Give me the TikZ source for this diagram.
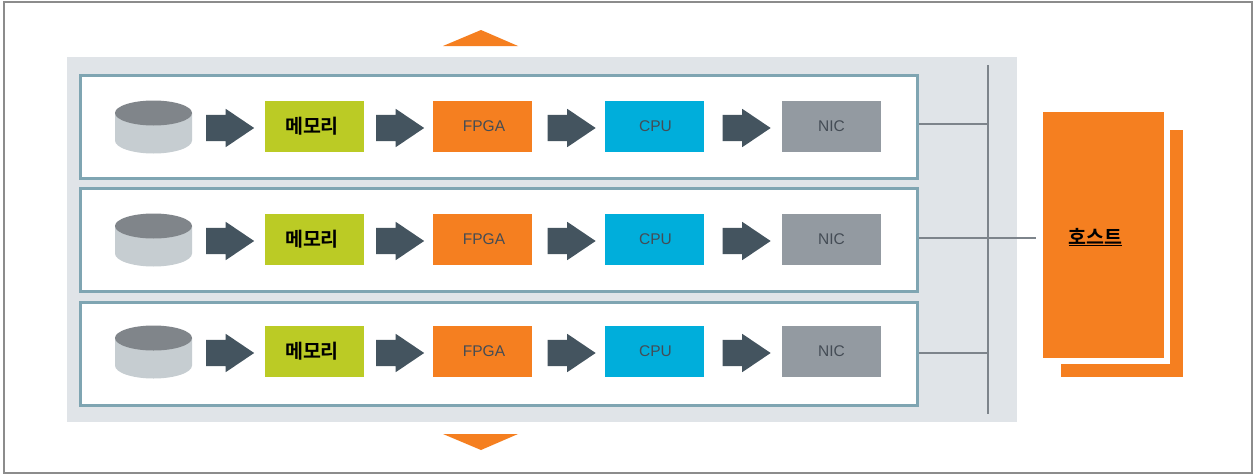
\documentclass[tikz,border=0pt]{standalone}
\usepackage{fontspec}
\setmainfont{Liberation Sans}
\newfontfamily\krfont{Noto Sans CJK KR}[BoldFont={* Bold}]
\usetikzlibrary{shapes.arrows}
\definecolor{panelgray}{HTML}{E0E4E8}
\definecolor{rowedge}{HTML}{7FA5B2}
\definecolor{arrowslate}{HTML}{44545F}
\definecolor{lime}{HTML}{BBCB25}
\definecolor{hostorange}{HTML}{F57F20}
\definecolor{cpublue}{HTML}{00AEDB}
\definecolor{nicgray}{HTML}{939AA1}
\definecolor{linegray}{HTML}{7D848B}
\definecolor{diskbody}{HTML}{C6CDD1}
\definecolor{disktop}{HTML}{80858A}
\definecolor{labelgray}{HTML}{444C55}
\tikzset{
  rowbox/.style={draw=rowedge,line width=3pt,fill=white,minimum width=837pt,minimum height=103pt,inner sep=0pt},
  unitbox/.style={minimum width=99pt,minimum height=51pt,inner sep=0pt,text=labelgray,font=\fontsize{15.5}{15.5}\selectfont},
  memorybox/.style={unitbox,fill=lime,text=black,font=\krfont\bfseries\fontsize{19.5}{19.5}\selectfont},
  fpgabox/.style={unitbox,fill=hostorange},
  cpubox/.style={unitbox,fill=cpublue},
  nicbox/.style={unitbox,fill=nicgray},
  flowarrow/.style={single arrow,fill=arrowslate,minimum height=48pt,minimum width=38pt,inner xsep=0pt,inner ysep=13pt,
    single arrow head extend=6pt,single arrow tip angle=68,shape border rotate=0,anchor=tip},
  wire/.style={draw=linegray,line width=2pt},
  updown/.style={fill=hostorange,draw=none}
}
\begin{document}
\begin{tikzpicture}[x=1pt,y=-1pt]
\useasboundingbox (0,0) rectangle (1253,474);
\fill[white] (0,0) rectangle (1253,474);
\draw[draw=black!45,line width=1.8pt] (4,2) -- (1252,2) -- (1252,473) -- (4,473) -- cycle;
\fill[panelgray] (67,57) rectangle (1017,422);
\fill[updown] (443,46) -- (481,30) -- (518,46) -- cycle;
\fill[updown] (443,434) -- (481,450) -- (518,434) -- cycle;
% bus
\coordinate (bustop) at (988,65);
\coordinate (busbot) at (988,414);
\draw[wire] (bustop) -- (busbot);
% rows
\node[rowbox] (row1) at (499,126.5) {};
\node[rowbox] (row2) at (499,240) {};
\node[rowbox] (row3) at (499,353.5) {};
% row contents
\foreach \r/\y in {1/126.5,2/239.5,3/351.5}{
  \fill[diskbody] (115,\y-13.5) -- (115,\y+14) arc[start angle=180,end angle=0,x radius=38.5,y radius=13] -- (192,\y-13.5) -- cycle;
  \fill[disktop] (153.5,\y-13.5) ellipse[x radius=38.5,y radius=12.5];
  \node[flowarrow] (a\r) at (254.5,\y+1.5) {};
  \node[memorybox] (m\r) at (314.5,\y) {메모리\kern5pt};
  \node[flowarrow] (b\r) at (424.5,\y+1.5) {};
  \node[fpgabox] (f\r) at (482.5,\y) {\kern3pt FPGA};
  \node[flowarrow] (c\r) at (596,\y+1.5) {};
  \node[cpubox] (c-box\r) at (654.5,\y) {\kern2pt CPU};
  \node[flowarrow] (d\r) at (771,\y+1.5) {};
  \node[nicbox] (n\r) at (831.5,\y) {NIC};
}
% host
\fill[hostorange] (1061,130) rectangle (1183,377);
\fill[white] (1043,112) rectangle (1170,364);
\node[fill=hostorange,minimum width=121pt,minimum height=246pt,inner sep=0pt] (host) at (1103.5,235) {};
\node[inner sep=0pt,font=\krfont\bfseries\fontsize{19.5}{19.5}\selectfont] (hostlabel) at (1095.5,237) {\underline{호스트}};
% wires
\coordinate (w1) at (919,124);
\coordinate (w2) at (919,237.5);
\coordinate (w3) at (919,353);
\coordinate (hostend) at (1036,237.5);
\draw[wire] (w1) -- (w1 -| bustop);
\draw[wire] (w2) -- (hostend);
\draw[wire] (w3) -- (w3 -| bustop);
\end{tikzpicture}
\end{document}
